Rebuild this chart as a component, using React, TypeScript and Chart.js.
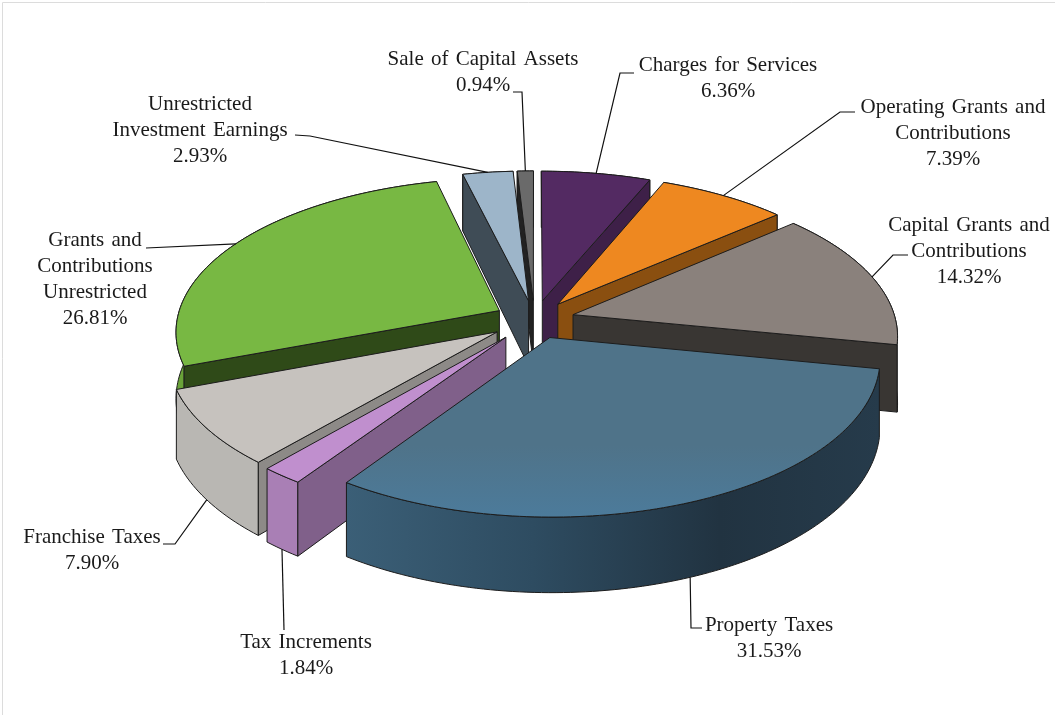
import React, { useEffect, useRef } from "react";
import { Chart, registerables } from "chart.js";

Chart.register(...registerables);

// Revenue shares, clockwise from twelve o'clock.
const categories: string[][] = [
  ["Charges for Services"],
  ["Operating Grants and", "Contributions"],
  ["Capital Grants and", "Contributions"],
  ["Property Taxes"],
  ["Tax Increments"],
  ["Franchise Taxes"],
  ["Grants and", "Contributions", "Unrestricted"],
  ["Unrestricted", "Investment Earnings"],
  ["Sale of Capital Assets"],
];
const shares = [6.36, 7.39, 14.32, 31.53, 1.84, 7.9, 26.81, 2.93, 0.94];
const explode = [40, 40, 40, 40, 46, 45, 40, 40, 40];

const topColors = ["#532a62", "#ee8820", "#8a817c", "#4f7389", "#c08fce", "#c6c2be", "#78b843", "#9db5c9", "#6a6a6a"];
const cutColors = ["#3e2048", "#8a4f10", "#393633", "#2c4556", "#80608a", "#8d8a87", "#2f4a18", "#3f4c56", "#222222"];
const rimColors = ["#3e2048", "#8a4f10", "#393633", "#2a4254", "#a97fb5", "#b9b7b3", "#6aa339", "#3f4c56", "#333333"];
const propertyRimStops: [number, string][] = [
  [0, "#3b5f77"],
  [0.35, "#2e4c61"],
  [0.7, "#213341"],
  [1, "#263b4b"],
];
const propertyTopStops: [number, string][] = [
  [0, "#4f7389"],
  [0.6, "#4f7389"],
  [1, "#4c7b9b"],
];

// Label block per slice: centre x, first line centre y, then the leader elbows.
const labelLayout = [
  { x: 728, y: 65, lift: 0, elbow: [[620, 73], [634, 73]] },
  { x: 953, y: 107, lift: 0, elbow: [[840, 112], [855, 112]] },
  { x: 969, y: 225, lift: 0, elbow: [[893, 255], [908, 255]] },
  { x: 769, y: 625, lift: 1, elbow: [[691, 628], [702, 628]] },
  { x: 306, y: 642, lift: 1, elbow: [[284, 630]] },
  { x: 92, y: 537, lift: 1, elbow: [[175, 544], [163, 544]] },
  { x: 95, y: 240, lift: 0, elbow: [[146, 248]] },
  { x: 200, y: 104, lift: 0, elbow: [[310, 136], [295, 135]] },
  { x: 483, y: 59, lift: 0, elbow: [[522, 92], [513, 92]] },
];

const TILT = 0.48;
const PERSPECTIVE = 0.13;
const THICKNESS = 66;
const VIEW_LIFT = -26;
const LINE_HEIGHT = 26;
const OUTLINE = "#1c1c1c";
const LABEL_FONT = '21px "Liberation Serif"';

type Pt = [number, number];

function projector(arc: any) {
  const mid = (arc.startAngle + arc.endAngle) / 2;
  const off = arc.options.offset;
  const R = arc.outerRadius;
  return (angle: number, r: number, z: number): Pt => {
    const wx = R * r * Math.cos(angle) + off * Math.cos(mid);
    const wy = R * r * Math.sin(angle) + off * Math.sin(mid);
    const p = 1 + (PERSPECTIVE * wy) / R;
    return [arc.x + wx * p, arc.y + VIEW_LIFT + wy * TILT * p + z * p];
  };
}

function rimPoints(arc: any, z: number): Pt[] {
  const project = projector(arc);
  const steps = Math.max(4, Math.ceil((arc.endAngle - arc.startAngle) / 0.02));
  const pts: Pt[] = [];
  for (let i = 0; i <= steps; i++) {
    pts.push(project(arc.startAngle + ((arc.endAngle - arc.startAngle) * i) / steps, 1, z));
  }
  return pts;
}

function fillPath(ctx: CanvasRenderingContext2D, pts: Pt[], fill: string | CanvasGradient, lineWidth = 1) {
  ctx.beginPath();
  pts.forEach(([x, y], i) => (i ? ctx.lineTo(x, y) : ctx.moveTo(x, y)));
  ctx.closePath();
  ctx.fillStyle = fill;
  ctx.fill();
  ctx.strokeStyle = OUTLINE;
  ctx.lineWidth = lineWidth;
  ctx.lineJoin = "round";
  ctx.stroke();
}

function ramp(ctx: CanvasRenderingContext2D, x0: number, y0: number, x1: number, y1: number, stops: [number, string][]) {
  const g = ctx.createLinearGradient(x0, y0, x1, y1);
  stops.forEach(([s, c]) => g.addColorStop(s, c));
  return g;
}

// Extruded, exploded pie: every slice is painted far-to-near from the arc geometry.
const extrudedPie = {
  id: "extrudedPie",
  beforeDatasetsDraw(chart: any) {
    const { ctx } = chart;
    const arcs: any[] = chart.getDatasetMeta(0).data;
    const order = arcs
      .map((_, i) => i)
      .sort((a, b) => {
        const ma = (arcs[a].startAngle + arcs[a].endAngle) / 2;
        const mb = (arcs[b].startAngle + arcs[b].endAngle) / 2;
        return Math.sin(ma) - Math.sin(mb);
      });
    ctx.save();
    // Sheet frame
    ctx.strokeStyle = "#dcdcdc";
    ctx.lineWidth = 1;
    ctx.beginPath();
    ctx.moveTo(2.5, 715);
    ctx.lineTo(2.5, 2.5);
    ctx.lineTo(1055, 2.5);
    ctx.stroke();

    for (const i of order) {
      const arc = arcs[i];
      const project = projector(arc);
      const top = rimPoints(arc, 0);
      const bottom = rimPoints(arc, THICKNESS);
      const apexTop = project(0, 0, 0);
      const apexBottom = project(0, 0, THICKNESS);
      const a = arc.startAngle;
      const b = arc.endAngle;

      let rimFill: string | CanvasGradient = rimColors[i];
      let topFill: string | CanvasGradient = arc.options.backgroundColor;
      if (i === 3) {
        rimFill = ramp(ctx, top[top.length - 1][0], 0, top[0][0], 0, propertyRimStops);
        topFill = ramp(ctx, 0, apexTop[1], 0, apexTop[1] + 180, propertyTopStops);
      }
      fillPath(ctx, [...top, ...bottom.slice().reverse()], rimFill);

      // Cut faces are shown only where they turn toward the viewer.
      if (Math.cos(a) < 0) fillPath(ctx, [apexTop, project(a, 1, 0), project(a, 1, THICKNESS), apexBottom], cutColors[i]);
      if (Math.cos(b) > 1e-6) fillPath(ctx, [apexTop, project(b, 1, 0), project(b, 1, THICKNESS), apexBottom], cutColors[i]);

      fillPath(ctx, [apexTop, ...top], topFill);
    }
    ctx.restore();
    return false;
  },
  afterDraw(chart: any) {
    const { ctx } = chart;
    const arcs: any[] = chart.getDatasetMeta(0).data;
    const labels: string[][] = chart.data.labels;
    const values: number[] = chart.data.datasets[0].data;
    ctx.save();
    arcs.forEach((arc, i) => {
      const spot = labelLayout[i];
      const mid = (arc.startAngle + arc.endAngle) / 2;
      const start = projector(arc)(mid, 1, spot.lift * THICKNESS);
      ctx.strokeStyle = "#111111";
      ctx.lineWidth = 1.2;
      ctx.beginPath();
      ctx.moveTo(start[0], start[1]);
      spot.elbow.forEach(([x, y]) => ctx.lineTo(x, y));
      ctx.stroke();

      ctx.fillStyle = "#1a1a1a";
      ctx.font = LABEL_FONT;
      ctx.textAlign = "center";
      ctx.textBaseline = "middle";
      (ctx as any).wordSpacing = "2px";
      const lines = [...labels[i], `${values[i].toFixed(2)}%`];
      lines.forEach((line, k) => ctx.fillText(line, spot.x, spot.y + k * LINE_HEIGHT));
    });
    ctx.restore();
  },
};

export default function App() {
  const ref = useRef<HTMLCanvasElement>(null);
  useEffect(() => {
    const chart = new Chart(ref.current as HTMLCanvasElement, {
      type: "pie",
      data: {
        labels: categories as any,
        datasets: [
          {
            data: shares,
            backgroundColor: topColors,
            offset: explode,
            borderWidth: 0,
          },
        ],
      },
      options: {
        animation: false,
        responsive: false,
        layout: { padding: { left: 167, right: 153, top: 0, bottom: 24 } },
        plugins: { legend: { display: false }, tooltip: { enabled: false } },
      },
      plugins: [extrudedPie],
    } as any);
    return () => chart.destroy();
  }, []);
  return (
    <div style={{ position: "fixed", left: 0, top: 0, width: 1055, height: 715, background: "#ffffff" }}>
      <canvas ref={ref} width={1055} height={715} style={{ display: "block" }} />
    </div>
  );
}
